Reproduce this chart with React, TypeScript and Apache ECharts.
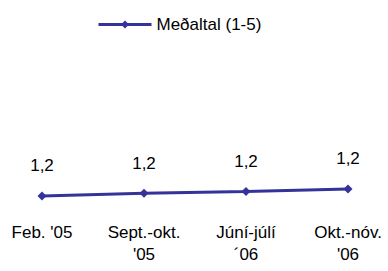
import React, { useEffect, useRef } from "react";
import * as echarts from "echarts";

const categories = ["Feb. '05", "Sept.-okt.\n'05", "Júní-júlí\n´06", "Okt.-nóv.\n'06"];
const seriesName = "Meðaltal (1-5)";
const values = [1.16, 1.19, 1.21, 1.24];

export default function App() {
  const ref = useRef<HTMLDivElement>(null);
  useEffect(() => {
    document.body.style.margin = "0";
    if (!ref.current) return;
    const chart = echarts.init(ref.current, undefined, { renderer: "svg" });
    const font = "Liberation Sans, Arial, sans-serif";
    chart.setOption({
      animation: false,
      backgroundColor: "#ffffff",
      legend: {
        top: 11,
        left: 92,
        itemWidth: 53,
        itemHeight: 10,
        itemGap: 5,
        lineStyle: { width: 3 },
        textStyle: { fontSize: 17, color: "#000", fontFamily: font },
        data: [seriesName],
      },
      grid: { left: 42, right: 40, top: 122, bottom: 61, containLabel: false },
      xAxis: {
        type: "category",
        data: categories,
        boundaryGap: false,
        axisLine: { show: false },
        axisTick: { show: false },
        splitLine: { show: false },
        axisLabel: {
          interval: 0,
          margin: 11,
          fontSize: 17,
          lineHeight: 22,
          color: "#000",
          fontFamily: font,
        },
      },
      yAxis: {
        type: "value",
        min: 1,
        max: 2,
        show: false,
      },
      series: [
        {
          name: seriesName,
          type: "line",
          data: values,
          symbol: "diamond",
          symbolSize: 9,
          lineStyle: { color: "#333399", width: 3 },
          itemStyle: { color: "#333399" },
          label: {
            show: true,
            position: "top",
            distance: 17,
            fontSize: 17,
            color: "#000",
            fontFamily: font,
            formatter: (p: any) => p.value.toFixed(1).replace(".", ","),
          },
        },
      ],
    });
    return () => chart.dispose();
  }, []);
  return <div ref={ref} style={{ width: 388, height: 271 }} />;
}
